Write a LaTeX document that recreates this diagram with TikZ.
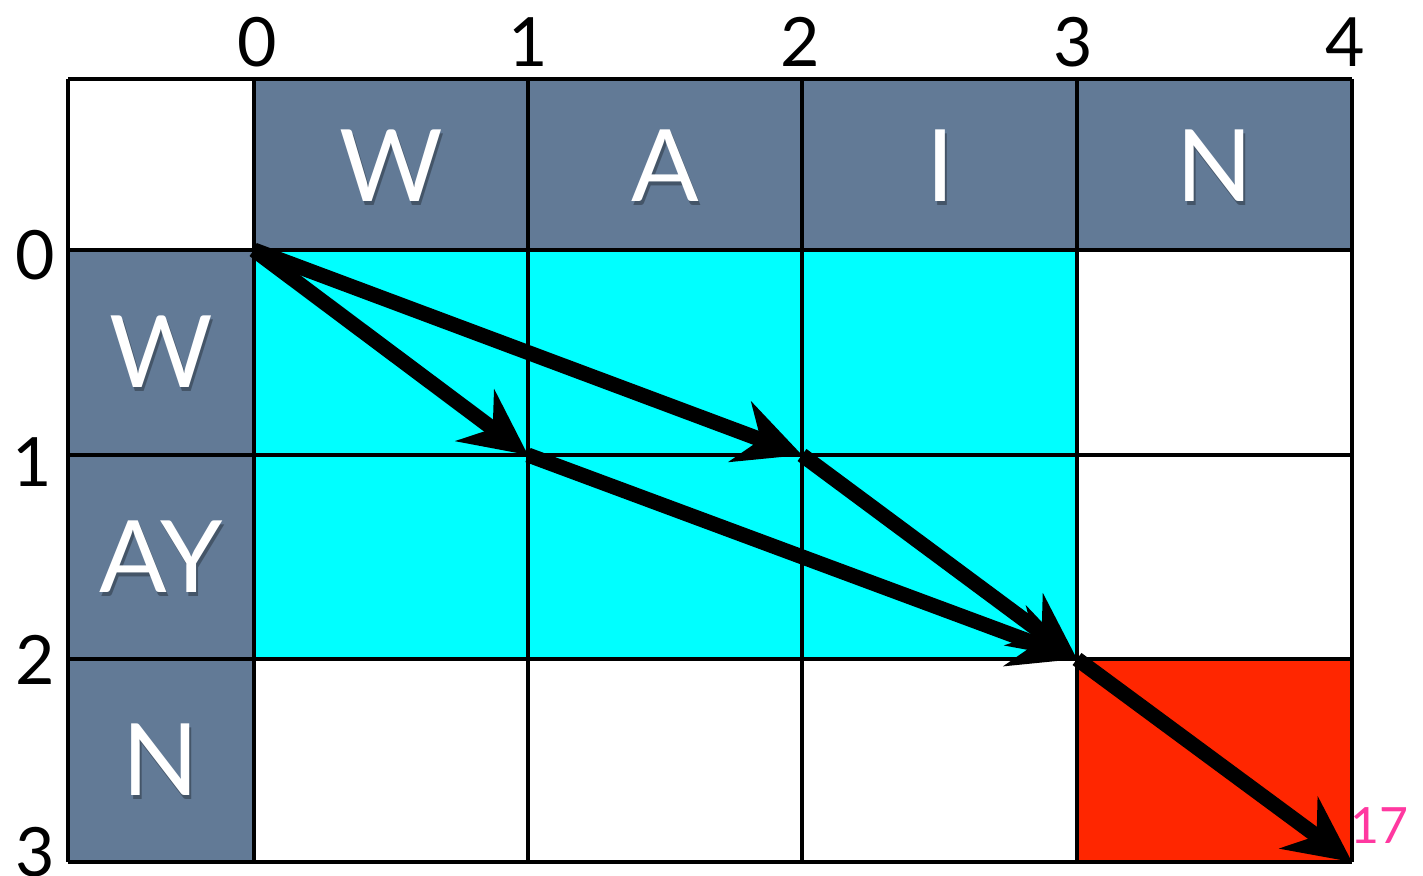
\documentclass[tikz,border=0pt]{standalone}
\usepackage{fontspec}
\setmainfont{Lato}
\usetikzlibrary{arrows.meta}
\definecolor{hdr}{RGB}{98,122,150}
\definecolor{cy}{RGB}{0,255,255}
\definecolor{rd}{RGB}{255,38,0}
\definecolor{pk}{RGB}{255,56,160}
\tikzset{
  gridline/.style={line width=2.3pt, draw=black},
  hdrcell/.style={fill=hdr},
  letter/.style={text=white, font=\fontsize{50}{50}\selectfont, inner sep=0pt},
  shadow/.style={text=black, opacity=0.3, font=\fontsize{50}{50}\selectfont, inner sep=0pt},
  idx/.style={text=black, font=\fontsize{34}{34}\selectfont, inner sep=0pt},
  path/.style={line width=7.5pt, -{Stealth[length=33pt, width=32pt, inset=11pt]}},
}
\begin{document}
\begin{tikzpicture}[x=0.5pt, y=-0.5pt]
\useasboundingbox (0,0) rectangle (1423,875);
% fills
\fill[hdr] (254,79) rectangle (1352,250);
\fill[hdr] (68,250) rectangle (254,862);
\fill[cy] (254,250) rectangle (1077,659);
\fill[rd] (1077,659) rectangle (1352,862);
% grid
\foreach \x in {68,254,528,802,1077,1352} \draw[gridline] (\x,79) -- (\x,862);
\foreach \y in {79,250,455,659,862} \draw[gridline] (68,\y) -- (1352,\y);
% header letters
\foreach \t/\x/\y in {W/391/166, A/665/166, I/940/166, N/1215/166, W/161/352, AY/161/557, N/161/760}{
  \node[shadow] at (\x+2,\y+4) {\t};
  \node[letter] (L\t\x) at (\x,\y) {\t};
}
% indices
\node[idx] (c0) at (257,42) {0};
\node[idx] (c1) at (528,42) {1};
\node[idx] (c2) at (800,42) {2};
\node[idx] (c3) at (1073,42) {3};
\node[idx] (c4) at (1345,42) {4};
\node[idx] (r0) at (35,255) {0};
\node[idx] (r1) at (32,462) {1};
\node[idx] (r2) at (35,660) {2};
\node[idx] (r3) at (35,852) {3};
\node[text=pk, font=\fontsize{25}{25}\selectfont, inner sep=0pt] (score) at (1379,826) {17};
% grid points
\coordinate (p00) at (254,250);
\coordinate (p11) at (528,455);
\coordinate (p21) at (802,455);
\coordinate (p32) at (1077,659);
\coordinate (p43) at (1352,862);
% arrows
\draw[path] (p00) -- (p11);
\draw[path] (p00) -- (p21);
\draw[path] (p11) -- (p32);
\draw[path] (p21) -- (p32);
\draw[path] (p32) -- (p43);
\end{tikzpicture}
\end{document}
